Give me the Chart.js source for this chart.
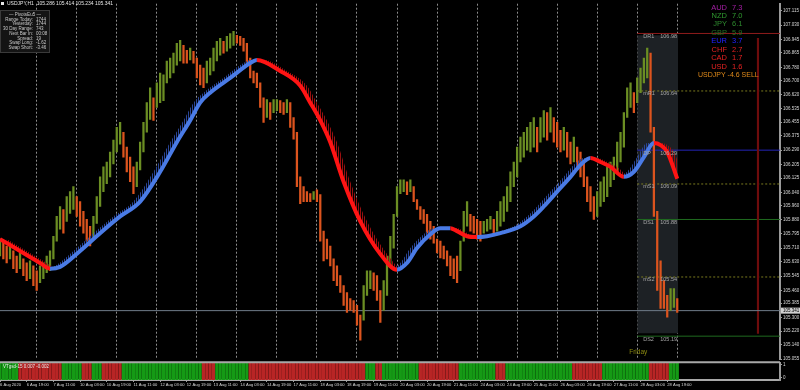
<!DOCTYPE html>
<html>
<head>
<meta charset="utf-8">
<script src="https://cdn.jsdelivr.net/npm/chart.js@4.4.0/dist/chart.umd.min.js"></script>
<style>
html, body { margin: 0; background: #000; }
#wrap { position: relative; width: 800px; height: 390px; overflow: hidden; background: #000; }
#main { position: absolute; left: 0; top: 0; }
#sub { position: absolute; left: 0; top: 359px; }
</style>
</head>
<body>
<div id="wrap">
  <canvas id="main" width="800" height="364"></canvas>
  <canvas id="sub" width="800" height="31"></canvas>
</div>
<script>
// USDJPY H1, shown here as 2-hour bars
const symbolTitle = 'USDJPY,H1  105.286 105.414 105.234 105.341';
const timeLabels = ['6 Aug 2020', '6 Aug 19:00', '7 Aug 11:00', '10 Aug 03:00', '10 Aug 19:00', '11 Aug 11:00',
    '12 Aug 03:00', '12 Aug 19:00', '13 Aug 11:00', '14 Aug 03:00', '14 Aug 19:00', '17 Aug 11:00',
    '18 Aug 03:00', '18 Aug 19:00', '19 Aug 11:00', '20 Aug 03:00', '20 Aug 19:00', '21 Aug 11:00',
    '24 Aug 03:00', '24 Aug 19:00', '25 Aug 11:00', '26 Aug 03:00', '26 Aug 19:00', '27 Aug 11:00',
    '28 Aug 03:00', '28 Aug 19:00'];
const labelEvery = 8;
const dayBars = [11, 23, 35, 47, 59, 71, 83, 95, 107, 119, 131, 143, 155, 167, 179, 191, 203];
const priceTicks = [107.115, 107.030, 106.945, 106.865, 106.780, 106.700, 106.620, 106.535, 106.455,
    106.375, 106.290, 106.205, 106.125, 106.040, 105.960, 105.880, 105.795, 105.710, 105.630,
    105.545, 105.460, 105.385, 105.300, 105.220, 105.140, 105.055];

const barHigh = [
    105.764, 105.752, 105.723, 105.740, 105.694, 105.664, 105.682, 105.647, 105.623, 105.635,
    105.606, 105.577, 105.606, 105.623, 105.664, 105.694, 105.781, 105.898, 105.957, 105.939,
    106.015, 106.045, 106.074, 106.015, 105.986, 105.928, 105.881, 105.840, 105.898, 106.015,
    106.132, 106.191, 106.220, 106.279, 106.349, 106.425, 106.454, 106.396, 106.308, 106.249,
    106.191, 106.220, 106.337, 106.454, 106.571, 106.659, 106.600, 106.688, 106.746, 106.735,
    106.817, 106.834, 106.864, 106.922, 106.940, 106.910, 106.881, 106.893, 106.875, 106.834,
    106.793, 106.776, 106.817, 106.834, 106.893, 106.934, 106.951, 106.934, 106.963, 106.980,
    106.992, 106.969, 106.963, 106.951, 106.922, 106.834, 106.758, 106.746, 106.688, 106.600,
    106.589, 106.571, 106.589, 106.589, 106.583, 106.571, 106.589, 106.571, 106.483, 106.396,
    106.132, 106.074, 106.045, 106.033, 106.045, 106.056, 106.027, 105.811, 105.764, 105.723,
    105.647, 105.606, 105.548, 105.489, 105.448, 105.413, 105.401, 105.372, 105.314, 105.489,
    105.577, 105.577, 105.565, 105.548, 105.460, 105.518, 105.664, 105.781, 105.910, 106.074,
    106.115, 106.115, 106.103, 106.115, 106.074, 105.998, 105.957, 105.939, 105.910, 105.869,
    105.840, 105.764, 105.752, 105.723, 105.694, 105.664, 105.647, 105.664, 105.752, 105.928,
    105.986, 105.910, 105.898, 105.881, 105.869, 105.869, 105.881, 105.898, 105.881, 105.928,
    105.986, 106.015, 106.074, 106.162, 106.220, 106.308, 106.367, 106.396, 106.425, 106.454,
    106.483, 106.425, 106.483, 106.524, 106.512, 106.542, 106.483, 106.454, 106.407, 106.425,
    106.396, 106.337, 106.367, 106.308, 106.279, 106.220, 106.132, 106.074, 106.015, 106.045,
    106.103, 106.132, 106.191, 106.220, 106.249, 106.337, 106.396, 106.512, 106.659, 106.688,
    106.630, 106.717, 106.776, 106.834, 106.893, 106.864, 106.425, 105.928, 105.635, 105.518,
    105.431, 105.471, 105.471, 105.413
];
const barLow = [
    105.664, 105.647, 105.623, 105.647, 105.589, 105.565, 105.589, 105.548, 105.518, 105.530,
    105.489, 105.460, 105.507, 105.530, 105.565, 105.577, 105.647, 105.752, 105.822, 105.799,
    105.869, 105.916, 105.939, 105.898, 105.840, 105.799, 105.752, 105.723, 105.764, 105.857,
    105.957, 106.045, 106.092, 106.132, 106.208, 106.279, 106.325, 106.249, 106.162, 106.103,
    106.033, 106.074, 106.173, 106.279, 106.396, 106.472, 106.466, 106.542, 106.571, 106.583,
    106.688, 106.717, 106.746, 106.793, 106.817, 106.805, 106.805, 106.823, 106.805, 106.717,
    106.676, 106.659, 106.688, 106.735, 106.758, 106.817, 106.852, 106.864, 106.875, 106.893,
    106.910, 106.922, 106.910, 106.875, 106.805, 106.717, 106.688, 106.659, 106.542, 106.454,
    106.483, 106.472, 106.512, 106.524, 106.512, 106.501, 106.512, 106.425, 106.355, 106.074,
    105.974, 105.986, 105.986, 105.986, 105.998, 105.986, 105.752, 105.635, 105.647, 105.606,
    105.518, 105.489, 105.448, 105.372, 105.331, 105.343, 105.331, 105.255, 105.167, 105.284,
    105.431, 105.471, 105.460, 105.401, 105.272, 105.343, 105.431, 105.606, 105.711, 105.898,
    106.033, 106.045, 106.027, 106.045, 105.986, 105.939, 105.881, 105.857, 105.799, 105.764,
    105.740, 105.682, 105.653, 105.647, 105.606, 105.548, 105.530, 105.507, 105.577, 105.752,
    105.840, 105.811, 105.799, 105.764, 105.752, 105.799, 105.811, 105.822, 105.799, 105.811,
    105.840, 105.869, 105.928, 105.986, 106.074, 106.132, 106.220, 106.249, 106.290, 106.279,
    106.308, 106.279, 106.337, 106.367, 106.349, 106.396, 106.337, 106.308, 106.279, 106.290,
    106.249, 106.208, 106.220, 106.173, 106.132, 106.074, 105.986, 105.928, 105.881, 105.898,
    105.957, 105.986, 106.015, 106.074, 106.115, 106.162, 106.220, 106.308, 106.483, 106.542,
    106.512, 106.571, 106.630, 106.688, 106.717, 106.396, 105.898, 105.460, 105.354, 105.354,
    105.302, 105.343, 105.360, 105.331
];

// moving average
const maBars = [0, 6, 12, 15, 18, 24, 30, 36, 42, 48, 53, 57, 60, 63, 69, 75, 77, 84, 90, 93,
    96, 99, 103, 108, 114, 119, 122, 125, 129, 132, 135, 137, 140, 143, 146, 150, 156, 160, 163, 167,
    171, 174, 177, 180, 183, 187, 190, 193, 196, 198, 200, 203];
const maValues = [105.764, 105.694, 105.623, 105.589, 105.600, 105.694, 105.799, 105.898, 105.986, 106.162,
    106.337, 106.466, 106.571, 106.630, 106.717, 106.805, 106.823, 106.758, 106.671, 106.571,
    106.466, 106.337, 106.103, 105.869, 105.676, 105.583, 105.623, 105.711, 105.793, 105.828,
    105.828, 105.811, 105.781, 105.776, 105.781, 105.799, 105.840, 105.898, 105.957, 106.045,
    106.132, 106.203, 106.244, 106.220, 106.191, 106.132, 106.162, 106.249, 106.332, 106.320,
    106.279, 106.121];

// pivots of the last session
const levelNames = ['DR1', 'mR1', 'DP', 'mS1', 'DS1', 'mS2', 'DS2'];
const levelValues = [106.98, 106.64, 106.29, 106.09, 105.88, 105.54, 105.19];
const sessionName = 'Friday';
const sessionBars = [191, 203.25];
const sessionRange = [105.207, 106.97];
const adrBarAt = 227.2;
const adrRange = [105.207, 106.951];
const lastPrice = 105.341;

const currencies = ['AUD', 'NZD', 'JPY', 'GBP', 'EUR', 'CHF', 'CAD', 'USD'];
const strength = [7.3, 7.0, 6.1, 5.9, 3.7, 2.7, 1.7, 1.6];
const pairSignal = 'USDJPY -4.6 SELL';

const infoTitle = 'PivotsEu5';
const infoLabels = ['Range Today:', 'Yesterday:', '30 Day Range:', 'Next Bar In:', 'Spread:', 'Swap Long:', 'Swap Short:'];
const infoValues = ['1744', '1744', '743', '00:08', '19', '-1.62', '-3.46'];

// oscillator: runs of [bars, sign]
const oscLabel = 'VTgsd-15 0.007 -0.002';
const oscRuns = [[6, 1], [13, -1], [6, 1], [3, -1], [3, 1], [6, -1], [24, 1], [4, -1], [10, 1], [35, -1],
    [3, 1], [2, -1], [11, 1], [12, -1], [11, 1], [3, -1], [20, 1], [9, -1], [14, 1], [6, -1], [3, 1]];

const X_MAX = 233.8;
const FONT = '"Liberation Sans", Arial, sans-serif';
const BULL = '#6b8e23';
const BEAR = '#dc541e';
const MA_UP = '#4a7be6';
const MA_DOWN = '#ff1414';
const HATCH_LAG = 2;
const strengthColors = ['#a61fa6', '#2f9a2f', '#2e8a2e', '#237323', '#2222ff', '#e62222', '#e62222', '#e62222'];
const levelColors = ['#8f1c1c', '#7a7a1e', '#2424b8', '#7a7a1e', '#1f6a1f', '#7a7a1e', '#1f6a1f'];

Chart.defaults.font.family = FONT;
Chart.defaults.color = '#d8d8d8';

function stripes(ctx, color) {
    const c = document.createElement('canvas');
    c.width = 2;
    c.height = 1;
    const g = c.getContext('2d');
    g.fillStyle = color;
    g.fillRect(0, 0, 1, 1);
    return ctx.createPattern(c, 'repeat');
}

const mainCtx = document.getElementById('main').getContext('2d');
const hatchUp = stripes(mainCtx, '#2a4596');
const hatchDown = stripes(mainCtx, '#9a1010');

const barColors = barHigh.map(function(h, i) {
    if (i === 0) return BULL;
    return (h + barLow[i]) >= (barHigh[i - 1] + barLow[i - 1]) ? BULL : BEAR;
});

const datasets = [];
// 0: session box
datasets.push({
    type: 'line',
    data: [{ x: sessionBars[0], y: sessionRange[1] }, { x: sessionBars[1], y: sessionRange[1] }],
    fill: { value: sessionRange[0] },
    backgroundColor: '#1d2125',
    borderWidth: 0,
    pointRadius: 0,
    order: 10
});
// 1..7: pivot lines
levelValues.forEach(function(v, i) {
    datasets.push({
        type: 'line',
        data: [{ x: sessionBars[0], y: v }, { x: X_MAX, y: v }],
        borderColor: levelColors[i],
        borderWidth: 1,
        borderDash: levelNames[i].charAt(0) === 'm' ? [2, 2] : [],
        pointRadius: 0,
        fill: false,
        order: 8
    });
});
// 8: current price line
datasets.push({
    type: 'line',
    data: [{ x: 0, y: lastPrice }, { x: X_MAX, y: lastPrice }],
    borderColor: '#6f7c8a',
    borderWidth: 1,
    pointRadius: 0,
    fill: false,
    order: 6
});
// 9: range bar
datasets.push({
    type: 'bar',
    data: [{ x: adrBarAt, y: adrRange }],
    backgroundColor: '#6e0c0c',
    barThickness: 1.5,
    grouped: false,
    order: 7
});
// 10: price bars
datasets.push({
    type: 'bar',
    data: barHigh.map(function(h, i) { return { x: i, y: [barLow[i], h] }; }),
    backgroundColor: barColors,
    barThickness: 1.6,
    grouped: false,
    order: 5
});
// 11: moving average
var maIndex = datasets.length;
datasets.push({
    type: 'line',
    data: maBars.map(function(b, i) { return { x: b, y: maValues[i] }; }),
    borderWidth: 4,
    borderColor: MA_UP,
    segment: {
        borderColor: function(c) { return c.p1.parsed.y >= c.p0.parsed.y ? MA_UP : MA_DOWN; }
    },
    cubicInterpolationMode: 'monotone',
    pointRadius: 0,
    fill: false,
    order: 2
});
// 12, 13: hatching around the average
datasets.push({
    type: 'line',
    data: maBars.map(function(b, i) { return { x: b - HATCH_LAG, y: maValues[i] }; }),
    borderWidth: 0,
    pointRadius: 0,
    cubicInterpolationMode: 'monotone',
    fill: { target: maIndex, above: hatchUp, below: 'rgba(0,0,0,0)' },
    order: 3
});
datasets.push({
    type: 'line',
    data: maBars.map(function(b, i) { return { x: b + HATCH_LAG, y: maValues[i] }; }),
    borderWidth: 0,
    pointRadius: 0,
    cubicInterpolationMode: 'monotone',
    fill: { target: maIndex, above: hatchDown, below: 'rgba(0,0,0,0)' },
    order: 3
});

const overlayPlugin = {
    id: 'overlay',
    afterDraw: function(chart) {
        const ctx = chart.ctx;
        const xs = chart.scales.x;
        const ys = chart.scales.y;
        ctx.save();
        ctx.textBaseline = 'middle';

        // header
        ctx.fillStyle = '#e6e6e6';
        ctx.fillRect(1, 2, 3, 3);
        ctx.font = '5px ' + FONT;
        ctx.textAlign = 'left';
        ctx.fillText(symbolTitle, 7, 4);

        // info panel
        ctx.fillStyle = '#141414';
        ctx.fillRect(0, 10, 50, 43);
        ctx.strokeStyle = '#3a3a3a';
        ctx.lineWidth = 1;
        ctx.strokeRect(0.5, 10.5, 49, 42);
        ctx.fillStyle = '#c8c8c8';
        ctx.font = '4.5px ' + FONT;
        ctx.textAlign = 'center';
        ctx.fillText('\u2014 ' + infoTitle + ' \u2014', 25, 15);
        infoLabels.forEach(function(l, i) {
            const ty = 19.5 + i * 4.75;
            ctx.textAlign = 'right';
            ctx.fillText(l, 33, ty);
            ctx.textAlign = 'left';
            ctx.fillText(infoValues[i], 36, ty);
        });

        // currency strength
        ctx.font = '7.5px ' + FONT;
        currencies.forEach(function(c, i) {
            const ty = 7.5 + i * 8.45;
            ctx.fillStyle = strengthColors[i];
            ctx.textAlign = 'right';
            ctx.fillText(c, 727, ty);
            ctx.textAlign = 'left';
            ctx.fillText(strength[i].toFixed(1), 732, ty);
        });
        ctx.fillStyle = '#e08a1a';
        ctx.font = '7px ' + FONT;
        ctx.textAlign = 'left';
        ctx.fillText(pairSignal, 698, 75);

        // pivot labels
        const left = xs.getPixelForValue(sessionBars[0]);
        const right = xs.getPixelForValue(sessionBars[1]);
        ctx.font = '5.5px ' + FONT;
        ctx.fillStyle = '#a6a6a6';
        levelNames.forEach(function(n, i) {
            const ly = ys.getPixelForValue(levelValues[i]) + 3;
            ctx.textAlign = 'left';
            ctx.fillText(n, left + 6, ly);
            ctx.textAlign = 'right';
            ctx.fillText(levelValues[i].toFixed(2), right - 1, ly);
        });

        // session name
        ctx.fillStyle = '#8c8a10';
        ctx.font = '6.5px ' + FONT;
        ctx.textAlign = 'center';
        ctx.fillText(sessionName, left + 1, 352);

        // last price tag
        const py = ys.getPixelForValue(lastPrice);
        ctx.fillStyle = '#d0d0d0';
        ctx.fillRect(781, py - 3, 19, 6);
        ctx.fillStyle = '#000';
        ctx.font = '4.5px ' + FONT;
        ctx.textAlign = 'left';
        ctx.fillText(lastPrice.toFixed(3), 783, py);
        ctx.restore();
    }
};

new Chart(mainCtx, {
    type: 'bar',
    data: { datasets: datasets },
    options: {
        responsive: false,
        animation: false,
        events: [],
        layout: { padding: { top: 0, left: 0, right: 0, bottom: 5 } },
        plugins: { legend: { display: false }, tooltip: { enabled: false } },
        scales: {
            x: { type: 'linear', min: 0, max: X_MAX, offset: false, display: false },
            xg: {
                type: 'linear', axis: 'x', position: 'bottom', min: 0, max: X_MAX, offset: false,
                afterBuildTicks: function(s) { s.ticks = dayBars.map(function(v) { return { value: v }; }); },
                afterFit: function(s) { s.height = 0; },
                ticks: { display: false },
                grid: { color: '#8c8c8c', lineWidth: 1, drawTicks: false, offset: false },
                border: { display: false, dash: [2, 2] }
            },
            y: {
                position: 'right', min: 105.055, max: 107.156,
                afterBuildTicks: function(s) { s.ticks = priceTicks.map(function(v) { return { value: v }; }); },
                afterFit: function(s) { s.width = 20; },
                ticks: {
                    color: '#d8d8d8', padding: 1, autoSkip: false,
                    font: { size: 4.5, family: FONT },
                    callback: function(v) { return Number(v).toFixed(3); }
                },
                grid: { drawOnChartArea: false, color: '#a0a0a0', tickLength: 2 },
                border: { color: '#9a9a9a', width: 2 }
            }
        }
    },
    plugins: [overlayPlugin]
});

// oscillator pane with time axis
const oscSigns = [];
oscRuns.forEach(function(r) {
    for (let k = 0; k < r[0]; k++) oscSigns.push(r[1]);
});
const OSC_LO = -0.17;
const OSC_HI = 1.17;

const paneFrame = {
    id: 'paneFrame',
    afterDraw: function(chart) {
        const ctx = chart.ctx;
        const a = chart.chartArea;
        ctx.save();
        ctx.strokeStyle = '#a8a8a8';
        ctx.lineWidth = 2;
        ctx.beginPath();
        ctx.moveTo(0, a.top - 0.5);
        ctx.lineTo(a.right, a.top - 0.5);
        ctx.stroke();
        ctx.fillStyle = '#e8e8e8';
        ctx.font = '4.5px ' + FONT;
        ctx.textBaseline = 'middle';
        ctx.textAlign = 'left';
        ctx.fillText(oscLabel, 3, a.top + 4.5);
        ctx.restore();
    }
};

new Chart(document.getElementById('sub'), {
    type: 'bar',
    data: {
        datasets: [{
            data: oscSigns.map(function(s, i) { return { x: i, y: [OSC_LO, OSC_HI] }; }),
            backgroundColor: oscSigns.map(function(s) { return s > 0 ? '#159a15' : '#b82525'; }),
            barThickness: 2.6,
            grouped: false
        }]
    },
    options: {
        responsive: false,
        animation: false,
        events: [],
        layout: { padding: { top: 1, left: 0, right: 0, bottom: 0 } },
        plugins: { legend: { display: false }, tooltip: { enabled: false } },
        scales: {
            x: {
                type: 'linear', position: 'bottom', min: 0, max: X_MAX, offset: false,
                afterBuildTicks: function(s) {
                    s.ticks = timeLabels.map(function(t, k) { return { value: k * labelEvery }; });
                },
                afterFit: function(s) { s.height = 10; },
                ticks: {
                    align: 'start', autoSkip: false, minRotation: 0, maxRotation: 0, padding: 0,
                    color: '#d8d8d8', font: { size: 4.1, family: FONT },
                    callback: function(v, i) { return timeLabels[i]; }
                },
                grid: { drawOnChartArea: false, color: '#a0a0a0', tickLength: 2, offset: false },
                border: { color: '#a8a8a8', width: 2 }
            },
            y: {
                position: 'right', min: OSC_LO, max: OSC_HI,
                afterBuildTicks: function(s) { s.ticks = [{ value: 1 }, { value: 0 }]; },
                afterFit: function(s) { s.width = 20; },
                ticks: {
                    color: '#d8d8d8', padding: 1, font: { size: 4.5, family: FONT },
                    callback: function(v) { return String(v); }
                },
                grid: { drawOnChartArea: false, color: '#a0a0a0', tickLength: 2 },
                border: { color: '#9a9a9a', width: 2 }
            }
        }
    },
    plugins: [paneFrame]
});
</script>
</body>
</html>
